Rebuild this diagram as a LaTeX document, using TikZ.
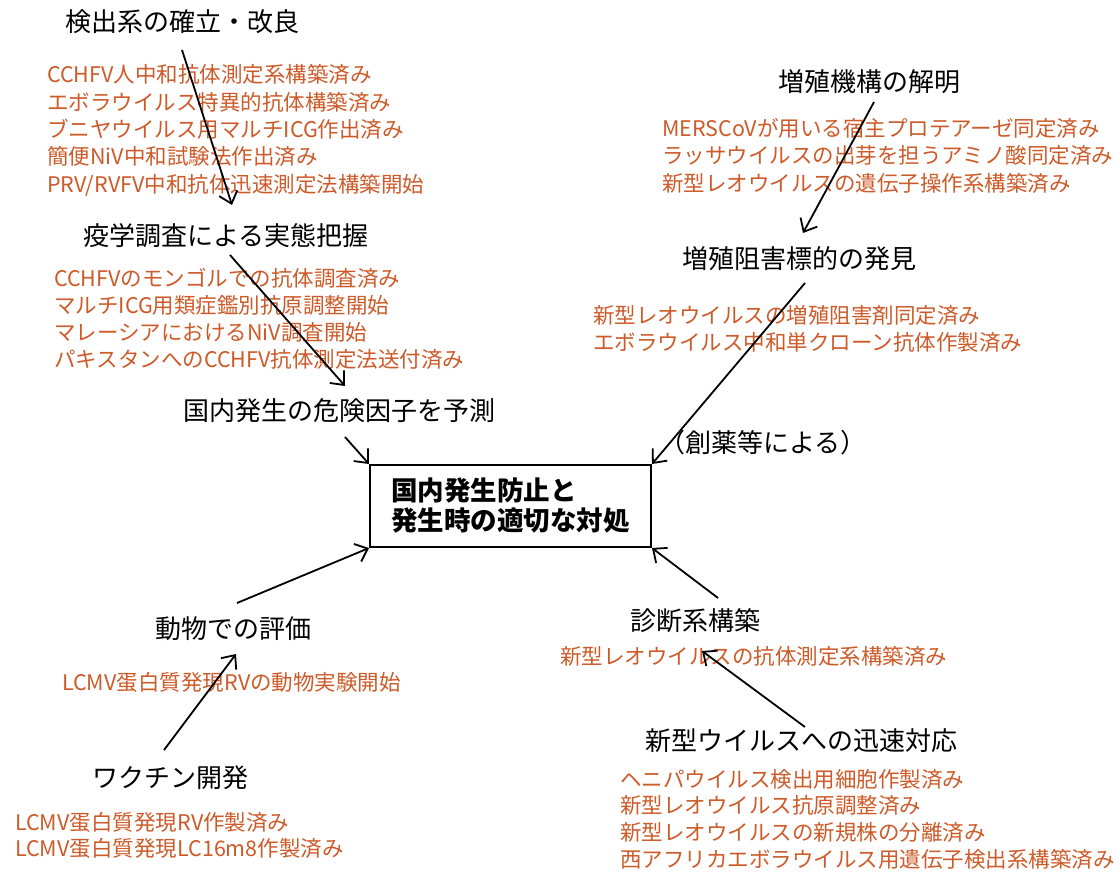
\documentclass[tikz,border=0pt]{standalone}
\usepackage{fontspec}
\setmainfont{Noto Sans CJK JP}
\usetikzlibrary{arrows.meta}
\definecolor{orangetxt}{RGB}{205,90,40}
\begin{document}
\begin{tikzpicture}[x=1pt,y=-1pt,
  head/.style={anchor=base west, inner sep=0, font=\fontsize{26}{30}\selectfont},
  sub/.style={anchor=base west, inner sep=0, text=orangetxt, font=\fontsize{21.5}{26}\selectfont},
  arr/.style={-{Straight Barb[length=11pt,width=19pt,line width=1.8pt]}, line width=1.8pt},
  goalbox/.style={draw, line width=2pt, minimum width=281pt, minimum height=82pt, inner sep=0, align=left, font=\bfseries\fontsize{26.5}{30}\selectfont}]
\useasboundingbox (0,0) rectangle (1118,872);

% headings
\node[head] (h1) at (65,32) {検出系の確立・改良};
\node[head] (h2) at (83,245) {疫学調査による実態把握};
\node[head] (h3) at (183,420) {国内発生の危険因子を予測};
\node[head] (h4) at (778,92) {増殖機構の解明};
\node[head] (h5) at (682,268) {増殖阻害標的の発見};
\node[head] (h6) at (659,452) {（創薬等による）};
\node[head] (h7) at (155,638) {動物での評価};
\node[head] (h8) at (92,787) {ワクチン開発};
\node[head] (h9) at (630,630) {診断系構築};
\node[head] (h10) at (645,750) {新型ウイルスへの迅速対応};

% central goal
\node[goalbox] (goal) at (510.5,506) {国内発生防止と\\発生時の適切な対処};

% orange items
\foreach \t [count=\i] in {CCHFV人中和抗体測定系構築済み,エボラウイルス特異的抗体構築済み,ブニヤウイルス用マルチICG作出済み,簡便NiV中和試験法作出済み,PRV/RVFV中和抗体迅速測定法構築開始}
  \node[sub] (o1-\i) at (47,{83+27.3*(\i-1)}) {\t};
\foreach \t [count=\i] in {CCHFVのモンゴルでの抗体調査済み,マルチICG用類症鑑別抗原調整開始,マレーシアにおけるNiV調査開始,パキスタンへのCCHFV抗体測定法送付済み}
  \node[sub] (o2-\i) at (54,{286+27*(\i-1)}) {\t};
\foreach \t [count=\i] in {MERSCoVが用いる宿主プロテアーゼ同定済み,ラッサウイルスの出芽を担うアミノ酸同定済み,新型レオウイルスの遺伝子操作系構築済み}
  \node[sub] (o3-\i) at (662,{136+27.5*(\i-1)}) {\t};
\foreach \t [count=\i] in {新型レオウイルスの増殖阻害剤同定済み,エボラウイルス中和単クローン抗体作製済み}
  \node[sub] (o4-\i) at (593,{323+27*(\i-1)}) {\t};
\node[sub] (o5) at (62,690) {LCMV蛋白質発現RVの動物実験開始};
\foreach \t [count=\i] in {LCMV蛋白質発現RV作製済み,LCMV蛋白質発現LC16m8作製済み}
  \node[sub] (o6-\i) at (15,{830+26*(\i-1)}) {\t};
\node[sub] (o7) at (560,664) {新型レオウイルスの抗体測定系構築済み};
\foreach \t [count=\i] in {ヘニパウイルス検出用細胞作製済み,新型レオウイルス抗原調整済み,新型レオウイルスの新規株の分離済み,西アフリカエボラウイルス用遺伝子検出系構築済み}
  \node[sub] (o8-\i) at (620,{787+26.8*(\i-1)}) {\t};

% arrow end points
\coordinate (a1s) at (182,50);  \coordinate (a1e) at (232,205);
\coordinate (a2s) at (230,255); \coordinate (a2e) at (345,386);
\coordinate (a3s) at (345,437);
\coordinate (a4s) at (874,102); \coordinate (a4e) at (803,233);
\coordinate (a5s) at (805,283);
\coordinate (a6s) at (237,603);
\coordinate (a7s) at (164,750); \coordinate (a7e) at (236,654);
\coordinate (a8s) at (718,598);
\coordinate (a9s) at (805,727); \coordinate (a9e) at (702,651);

\draw[arr] (a1s) -- (a1e);
\draw[arr] (a2s) -- (a2e);
\draw[arr] (a3s) -- (goal.north west);
\draw[arr] (a4s) -- (a4e);
\draw[arr] (a5s) -- (goal.north east);
\draw[arr] (a6s) -- (goal.south west);
\draw[arr] (a7s) -- (a7e);
\draw[arr] (a8s) -- (goal.south east);
\draw[arr] (a9s) -- (a9e);
\end{tikzpicture}
\end{document}
